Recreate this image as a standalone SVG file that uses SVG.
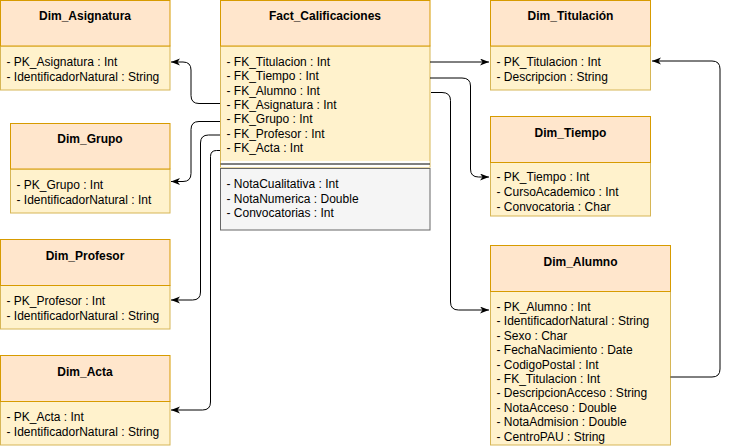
<svg xmlns="http://www.w3.org/2000/svg" width="729" height="448" viewBox="0 0 729 448">
<style>
.hdr{fill:#ffe6cc;stroke:#d79b00;stroke-width:1}
.body{fill:#fff2cc;stroke:#d6b656;stroke-width:1}
.gray{fill:#f5f5f5;stroke:#666666;stroke-width:1}
.t{font-family:"Liberation Sans",Arial,Helvetica,sans-serif;font-size:12px;fill:#000}
.ttl{font-weight:bold;text-anchor:middle}
.conn{fill:none;stroke:#000;stroke-width:1}
</style>
<defs>
<marker id="arr" markerUnits="userSpaceOnUse" markerWidth="10" markerHeight="8" refX="9" refY="3.5" orient="auto">
<path d="M9,3.5 L0,0 L2.5,3.5 L0,7 Z" fill="#000"/>
</marker>
</defs>
<rect width="729" height="448" fill="#fff"/>

<g id="Dim_Asignatura">
<rect class="body" x="0.5" y="46" width="169.5" height="44"/>
<rect class="hdr" x="0.5" y="0.5" width="169.5" height="45.5"/>
<text class="t ttl" x="85" y="20">Dim_Asignatura</text>
<text class="t" x="6.5" y="66">- PK_Asignatura : Int</text>
<text class="t" x="6.5" y="81">- IdentificadorNatural : String</text>
</g>

<g id="Dim_Grupo">
<rect class="body" x="10.5" y="169" width="159.5" height="44"/>
<rect class="hdr" x="10.5" y="123.5" width="159.5" height="45.5"/>
<text class="t ttl" x="90" y="143">Dim_Grupo</text>
<text class="t" x="16.5" y="188.5">- PK_Grupo : Int</text>
<text class="t" x="16.5" y="203.5">- IdentificadorNatural : Int</text>
</g>

<g id="Dim_Profesor">
<rect class="body" x="0.5" y="285.5" width="169.5" height="43.5"/>
<rect class="hdr" x="0.5" y="239.5" width="169.5" height="46"/>
<text class="t ttl" x="85" y="259.5">Dim_Profesor</text>
<text class="t" x="6.5" y="304.5">- PK_Profesor : Int</text>
<text class="t" x="6.5" y="319.5">- IdentificadorNatural : String</text>
</g>

<g id="Dim_Acta">
<rect class="body" x="0.5" y="401.5" width="169.5" height="43.5"/>
<rect class="hdr" x="0.5" y="355.5" width="169.5" height="46"/>
<text class="t ttl" x="85" y="375.5">Dim_Acta</text>
<text class="t" x="6.5" y="420.5">- PK_Acta : Int</text>
<text class="t" x="6.5" y="435.5">- IdentificadorNatural : String</text>
</g>

<g id="Fact_Calificaciones">
<rect class="body" x="220.5" y="46" width="209.5" height="121"/>
<rect class="hdr" x="220.5" y="0.5" width="209.5" height="45.5"/>
<rect x="221" y="161" width="208.5" height="6" fill="#fff"/>
<line x1="220.5" y1="164" x2="430" y2="164" stroke="#000" stroke-width="1"/>
<rect class="gray" x="220.5" y="168.5" width="209.5" height="61.5"/>
<text class="t ttl" x="325" y="20">Fact_Calificaciones</text>
<text class="t" x="226.5" y="66">- FK_Titulacion : Int</text>
<text class="t" x="226.5" y="80.3">- FK_Tiempo : Int</text>
<text class="t" x="226.5" y="94.7">- FK_Alumno : Int</text>
<text class="t" x="226.5" y="109">- FK_Asignatura : Int</text>
<text class="t" x="226.5" y="123.3">- FK_Grupo : Int</text>
<text class="t" x="226.5" y="137.7">- FK_Profesor : Int</text>
<text class="t" x="226.5" y="152">- FK_Acta : Int</text>
<text class="t" x="226.5" y="188.3">- NotaCualitativa : Int</text>
<text class="t" x="226.5" y="202.7">- NotaNumerica : Double</text>
<text class="t" x="226.5" y="217">- Convocatorias : Int</text>
</g>

<g id="Dim_Titulacion">
<rect class="body" x="490.5" y="46" width="160" height="44"/>
<rect class="hdr" x="490.5" y="0.5" width="160" height="45.5"/>
<text class="t ttl" x="570.5" y="20">Dim_Titulación</text>
<text class="t" x="496.5" y="66">- PK_Titulacion : Int</text>
<text class="t" x="496.5" y="81">- Descripcion : String</text>
</g>

<g id="Dim_Tiempo">
<rect class="body" x="490.5" y="162.5" width="160" height="53.5"/>
<rect class="hdr" x="490.5" y="116.5" width="160" height="46"/>
<text class="t ttl" x="570.5" y="136.5">Dim_Tiempo</text>
<text class="t" x="496.5" y="181">- PK_Tiempo : Int</text>
<text class="t" x="496.5" y="196">- CursoAcademico : Int</text>
<text class="t" x="496.5" y="211">- Convocatoria : Char</text>
</g>

<g id="Dim_Alumno">
<rect class="body" x="490.5" y="291.5" width="180" height="153.5"/>
<rect class="hdr" x="490.5" y="245.5" width="180" height="46"/>
<text class="t ttl" x="580.5" y="265.5">Dim_Alumno</text>
<text class="t" x="496.5" y="310.7">- PK_Alumno : Int</text>
<text class="t" x="496.5" y="325.1">- IdentificadorNatural : String</text>
<text class="t" x="496.5" y="339.6">- Sexo : Char</text>
<text class="t" x="496.5" y="354">- FechaNacimiento : Date</text>
<text class="t" x="496.5" y="368.5">- CodigoPostal : Int</text>
<text class="t" x="496.5" y="382.9">- FK_Titulacion : Int</text>
<text class="t" x="496.5" y="397.3">- DescripcionAcceso : String</text>
<text class="t" x="496.5" y="411.8">- NotaAcceso : Double</text>
<text class="t" x="496.5" y="426.2">- NotaAdmision : Double</text>
<text class="t" x="496.5" y="440.7">- CentroPAU : String</text>
</g>

<g id="connectors">
<path class="conn" marker-end="url(#arr)" d="M430,62 H489"/>
<path class="conn" marker-end="url(#arr)" d="M430,78 H462 Q470.5,78 470.5,86 V169 Q470.5,177 478.5,177 H489"/>
<path class="conn" marker-end="url(#arr)" d="M431,92.5 H442 Q450.5,92.5 450.5,100.5 V302 Q450.5,310 458.5,310 H489"/>
<path class="conn" marker-end="url(#arr)" d="M220,103.5 H199 Q191,103.5 191,95.5 V70 Q191,62 183,62 H171"/>
<path class="conn" marker-end="url(#arr)" d="M220,121.5 H199 Q191,121.5 191,129.5 V173.5 Q191,181.5 183,181.5 H171"/>
<path class="conn" marker-end="url(#arr)" d="M220,135 H208.5 Q200.5,135 200.5,143 V292 Q200.5,300 192.5,300 H171"/>
<path class="conn" marker-end="url(#arr)" d="M220,150.5 H216.5 Q210.5,150.5 210.5,156.5 V402 Q210.5,410 202.5,410 H171"/>
<path class="conn" marker-end="url(#arr)" d="M670.5,377 H712 Q720,377 720,369 V69 Q720,61 712,61 H652"/>
</g>
</svg>
